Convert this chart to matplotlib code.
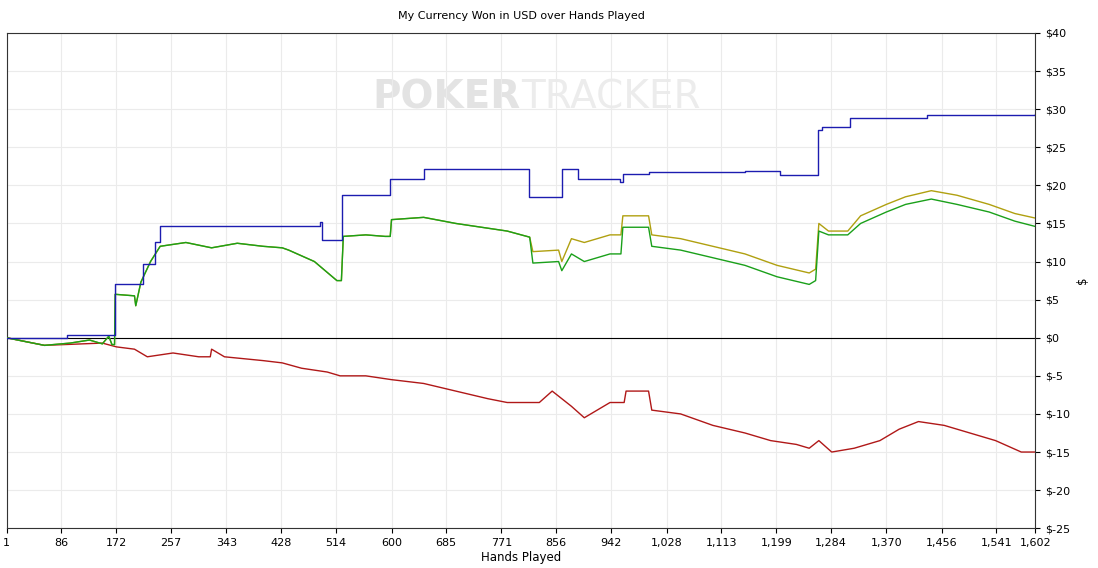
import matplotlib.pyplot as plt
import numpy as np

hands_blue = [1, 95, 170, 213, 232, 240, 489, 492, 523, 597, 651, 814, 866, 890, 955, 960, 1000, 1150, 1204, 1263, 1270, 1313, 1433, 1602]
vals_blue = [0, 0.3, 7.0, 9.7, 12.5, 14.7, 15.2, 12.8, 18.7, 20.8, 22.1, 18.5, 22.1, 20.8, 20.5, 21.5, 21.7, 21.9, 21.4, 27.3, 27.6, 28.8, 29.2, 29.4]

hands_green = [1, 30, 60, 100, 130, 150, 160, 165, 169, 170, 200, 202, 210, 225, 240, 280, 320, 360, 400, 430, 440, 480, 515, 522, 525, 560, 590, 598, 600, 650, 700, 780, 815,
               820, 860, 865, 880, 900, 940, 957, 960, 1000, 1005, 1050, 1100, 1150, 1200, 1250, 1260, 1265, 1280, 1310, 1330, 1370, 1400, 1440, 1480, 1530, 1570, 1602]
vals_green = [0, -0.5, -1.0, -0.7, -0.3, -0.8, 0.2, -0.9, -0.9, 5.7, 5.5, 4.2, 7.3, 10.0, 12.0, 12.5, 11.8, 12.4, 12.0, 11.8, 11.5, 10.0, 7.5, 7.5, 13.3, 13.5, 13.3, 13.3, 15.5, 15.8, 15.0, 14.0, 13.2,
              9.8, 10.0, 8.8, 11.0, 10.0, 11.0, 11.0, 14.5, 14.5, 12.0, 11.5, 10.5, 9.5, 8.0, 7.0, 7.5, 14.0, 13.5, 13.5, 15.0, 16.5, 17.5, 18.2, 17.5, 16.5, 15.3, 14.6]

hands_yellow = hands_green
vals_yellow = vals_green[:33] + [11.3, 11.5, 10.0, 13.0, 12.5, 13.5, 13.5, 16.0, 16.0, 13.5, 13.0, 12.0, 11.0, 9.5, 8.5, 9.0, 15.0, 14.0, 14.0, 16.0, 17.5, 18.5, 19.3, 18.7, 17.5, 16.3, 15.7]

hands_red = [1, 60, 150, 172, 200, 220, 260, 300, 318, 320, 340, 400, 430, 460, 500, 520, 560, 600, 650, 700, 750, 780, 830, 850, 880, 900, 920, 940, 962, 965, 1000,
             1005, 1050, 1100, 1150, 1190, 1230, 1250, 1265, 1285, 1320, 1360, 1390, 1420, 1460, 1500, 1540, 1580, 1602]
vals_red = [0, -1.0, -0.7, -1.2, -1.5, -2.5, -2.0, -2.5, -2.5, -1.5, -2.5, -3.0, -3.3, -4.0, -4.5, -5.0, -5.0, -5.5, -6.0, -7.0, -8.0, -8.5, -8.5, -7.0, -9.0, -10.5, -9.5, -8.5, -8.5, -7.0, -7.0,
            -9.5, -10.0, -11.5, -12.5, -13.5, -14.0, -14.5, -13.5, -15.0, -14.5, -13.5, -12.0, -11.0, -11.5, -12.5, -13.5, -15.0, -15.0]

x_ticks = [1, 86, 172, 257, 343, 428, 514, 600, 685, 771, 856, 942, 1028, 1113, 1199, 1284, 1370, 1456, 1541, 1602]
y_ticks = list(range(-25, 45, 5))

fig = plt.figure(figsize=(10.98, 5.68), dpi=100)
ax = fig.add_axes([0.006, 0.070, 0.937, 0.872])

ax.text(0.5, 0.87, 'POKER', transform=ax.transAxes, ha='right', va='center',
        fontsize=28, fontweight='bold', color='#e3e3e3', zorder=0)
ax.text(0.5, 0.87, 'TRACKER', transform=ax.transAxes, ha='left', va='center',
        fontsize=28, color='#ececec', zorder=0)

ax.axhline(0, color='black', lw=0.8, zorder=2)
ax.plot(hands_red, vals_red, color='#b01818', lw=1, zorder=3)
ax.plot(hands_yellow, vals_yellow, color='#b0a010', lw=1, zorder=3)
ax.plot(hands_green, vals_green, color='#1aa01a', lw=1, zorder=4)
ax.plot(hands_blue, vals_blue, drawstyle='steps-post', color='#1c1cb0', lw=1, zorder=5)

ax.set_xlim(1, 1602)
ax.set_ylim(-25, 40)
ax.set_xticks(x_ticks)
ax.set_xticklabels([f'{t:,}' for t in x_ticks], fontsize=8)
ax.set_yticks(y_ticks)
ax.set_yticklabels([f'${v}' if v >= 0 else f'$-{-v}' for v in y_ticks], fontsize=8)
ax.yaxis.tick_right()
ax.yaxis.set_label_position('right')
ax.set_ylabel('$', fontsize=8.5)
ax.set_xlabel('Hands Played', fontsize=8.5, labelpad=2)
ax.set_title('My Currency Won in USD over Hands Played', fontsize=8, pad=10)
ax.grid(True, color='#ebebeb', lw=0.8)
ax.set_axisbelow(True)
for s in ax.spines.values():
    s.set_color('#333333')
    s.set_linewidth(0.8)

fig.savefig('out.png', dpi=100)
